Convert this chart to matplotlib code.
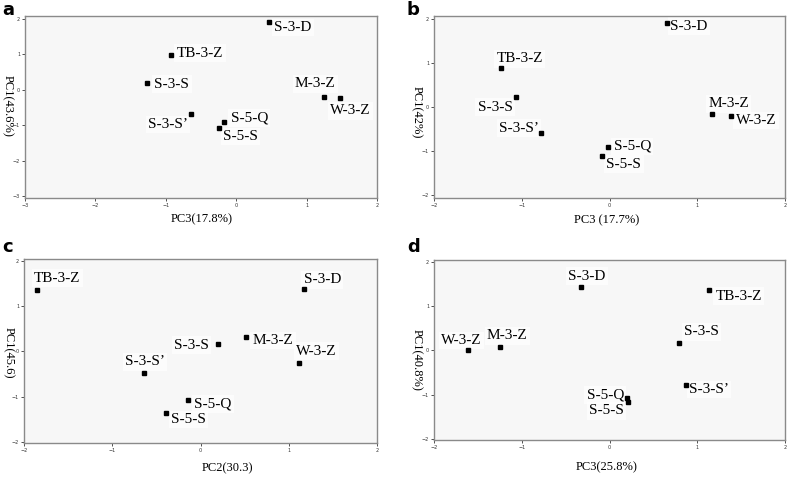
import matplotlib
matplotlib.use("Agg")
import matplotlib.pyplot as plt

# sample names, same order in every panel
names = ["S-3-D", "TB-3-Z", "S-3-S", "S-3-S’", "S-5-Q", "S-5-S", "M-3-Z", "W-3-Z"]

# panel a: PC3 vs PC1
a_x = [0.47, -0.93, -1.26, -0.64, -0.18, -0.24, 1.25, 1.48]
a_y = [1.90, 0.98, 0.19, -0.67, -0.90, -1.09, -0.20, -0.23]
# panel b
b_x = [0.66, -1.24, -1.06, -0.78, -0.02, -0.08, 1.17, 1.38]
b_y = [1.91, 0.89, 0.23, -0.59, -0.91, -1.11, -0.15, -0.21]
# panel c: PC2 vs PC1
c_x = [1.17, -1.85, 0.20, -0.64, -0.14, -0.39, 0.51, 1.12]
c_y = [1.38, 1.35, 0.16, -0.47, -1.07, -1.35, 0.31, -0.26]
# panel d
d_x = [-0.32, 1.13, 0.79, 0.87, 0.20, 0.21, -1.25, -1.61]
d_y = [1.43, 1.36, 0.17, -0.77, -1.07, -1.16, 0.08, 0.00]

x_labels = ["PC3(17.8%)", "PC3 (17.7%)", "PC2(30.3)", "PC3(25.8%)"]
y_labels = ["PC1(43.6%)", "PC1(42%)", "PC1(45.6)", "PC1(40.8%)"]
letters = ["a", "b", "c", "d"]
x_ticks = [[-3, -2, -1, 0, 1, 2], [-2, -1, 0, 1, 2], [-2, -1, 0, 1, 2], [-2, -1, 0, 1, 2]]
y_ticks = [[-3, -2, -1, 0, 1, 2], [-2, -1, 0, 1, 2], [-2, -1, 0, 1, 2], [-2, -1, 0, 1, 2]]

# label placement, pixels from the marker (dx, dy, ha)
offsets = [
    [(5, -5, "left"), (6, 2, "left"), (7, -1, "left"), (-3, -11, "right"),
     (7, 4, "left"), (4, -8, "left"), (-9, 13, "center"), (10, -13, "center")],
    [(3, -3, "left"), (-4, 9, "left"), (-4, -10, "right"), (-2, 5, "right"),
     (6, 1, "left"), (4, -8, "left"), (-4, 10, "left"), (5, -4, "left")],
    [(0, 9, "left"), (-3, 12, "left"), (-9, -1, "right"), (-19, 11, "left"),
     (6, -4, "left"), (5, -7, "left"), (7, -3, "left"), (-3, 12, "left")],
    [(-13, 11, "left"), (7, -6, "left"), (5, 11, "left"), (3, -5, "left"),
     (-3, 3, "right"), (-4, -9, "right"), (-13, 11, "left"), (-27, 10, "left")],
]

W, H = 787, 478
# axes boxes in pixels: left, top, right, bottom
boxes = [(25, 16, 377, 198), (434, 16, 785, 198), (24, 259, 377, 443), (434, 260, 785, 440)]
xlims = [(-3, 2), (-2, 2), (-2, 2), (-2, 2)]
ylims = [(-3.05, 2.08), (-2.06, 2.07), (-2.02, 2.04), (-2.02, 2.04)]
xlab_pos = [(202, 219), (607, 220), (227, 468), (607, 467)]
ylab_pos = [(7, 106), (416, 112), (8, 353), (416, 360)]
letter_pos = [(2, 15), (407, 15), (2, 252), (407, 252)]

serif = "Liberation Serif"
fig = plt.figure(figsize=(W / 100, H / 100), dpi=100)

data = [(a_x, a_y), (b_x, b_y), (c_x, c_y), (d_x, d_y)]
for i, (xs, ys) in enumerate(data):
    l, t, r, b = boxes[i]
    ax = fig.add_axes([l / W, 1 - b / H, (r - l) / W, (b - t) / H])
    ax.set_facecolor("#f7f7f7")
    ax.plot(xs, ys, "s", color="black", ms=2.4, zorder=5)
    for n, x, y, (dx, dy, ha) in zip(names, xs, ys, offsets[i]):
        ax.annotate(n, (x, y), xytext=(dx, dy), textcoords="offset pixels",
                    ha=ha, va="center", fontsize=11, family=serif, color="black", zorder=2,
                    bbox=dict(boxstyle="square,pad=0.15", fc="white", ec="none", alpha=0.7))
    ax.set_xlim(*xlims[i])
    ax.set_ylim(*ylims[i])
    ax.set_xticks(x_ticks[i])
    ax.set_yticks(y_ticks[i])
    ax.tick_params(labelsize=3.5, length=2, width=0.6, pad=1.5, colors="#333333")
    for s in ax.spines.values():
        s.set_color("#8a8a8a")
        s.set_linewidth(1.0)

    fig.text(xlab_pos[i][0] / W, 1 - xlab_pos[i][1] / H, x_labels[i], ha="center", va="center",
             fontsize=9, family=serif)
    fig.text(ylab_pos[i][0] / W, 1 - ylab_pos[i][1] / H, y_labels[i], ha="center", va="center",
             rotation=270, fontsize=9, family=serif)
    fig.text(letter_pos[i][0] / W, 1 - letter_pos[i][1] / H, letters[i], ha="left", va="baseline",
             fontsize=13, fontweight="bold", family="DejaVu Sans")

fig.savefig("out.png", dpi=100)
